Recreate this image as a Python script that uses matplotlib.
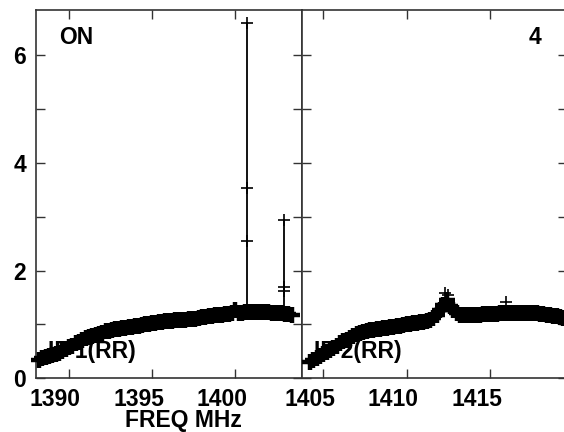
import numpy as np
import matplotlib
matplotlib.use('Agg')
import matplotlib.pyplot as plt
import matplotlib.transforms as mtransforms

plt.rcParams['font.family'] = ['Liberation Sans', 'DejaVu Sans']
plt.rcParams['font.weight'] = 'bold'

# IF 1 (RR) spectrum, 0.2 MHz sampling
if1_freq = np.round(np.arange(1388.2, 1403.41, 0.2), 2)
if1_amp = [0.35, 0.38, 0.40, 0.42, 0.44, 0.46, 0.48, 0.51, 0.54, 0.58,
           0.61, 0.65, 0.68, 0.71, 0.74, 0.77, 0.79, 0.81, 0.83, 0.85,
           0.87, 0.88, 0.90, 0.91, 0.92, 0.93, 0.94, 0.95, 0.96, 0.97,
           0.98, 0.99, 1.00, 1.01, 1.02, 1.03, 1.04, 1.05, 1.06, 1.07,
           1.07, 1.08, 1.08, 1.09, 1.09, 1.10, 1.10, 1.11, 1.12, 1.13,
           1.14, 1.15, 1.16, 1.17, 1.18, 1.18, 1.19, 1.20, 1.21, 1.27,
           1.21, 1.22, 1.23, 1.23, 1.23, 1.24, 1.24, 1.23, 1.23, 1.23,
           1.22, 1.22, 1.21, 1.21, 1.20, 1.19, 1.18]

# IF 2 (RR) spectrum
if2_freq = np.round(np.arange(1404.2, 1419.61, 0.2), 2)
if2_amp = [0.31, 0.34, 0.37, 0.41, 0.45, 0.49, 0.53, 0.57, 0.61, 0.65,
           0.69, 0.72, 0.75, 0.78, 0.82, 0.85, 0.86, 0.87, 0.89, 0.90,
           0.91, 0.92, 0.93, 0.94, 0.95, 0.96, 0.97, 0.98, 0.99, 1.00,
           1.01, 1.02, 1.03, 1.04, 1.05, 1.06, 1.08, 1.12, 1.18, 1.26,
           1.36, 1.45, 1.35, 1.26, 1.21, 1.18, 1.17, 1.17, 1.17, 1.18,
           1.18, 1.18, 1.19, 1.19, 1.19, 1.20, 1.20, 1.21, 1.21, 1.21,
           1.22, 1.22, 1.22, 1.22, 1.22, 1.22, 1.22, 1.21, 1.21, 1.20,
           1.19, 1.18, 1.17, 1.16, 1.15, 1.13, 1.12, 1.10]

# RFI spikes in IF 1
spike_freq = [1400.72, 1402.96]
spike_base = [1.23, 1.20]
spike_top = [6.59, 2.94]
spike_pts_freq = [1400.72, 1400.72, 1400.72, 1402.96, 1402.96, 1402.96]
spike_pts_amp = [6.59, 3.53, 2.55, 2.94, 1.70, 1.63]

# odd channels in IF 2
odd_freq = [1412.3, 1412.5, 1415.96]
odd_amp = [1.58, 1.55, 1.42]

fig = plt.figure(figsize=(5.64, 4.32), dpi=100)
ax1 = fig.add_axes([0.0633, 0.1241, 0.4716, 0.8535])
ax2 = fig.add_axes([0.5349, 0.1241, 0.4704, 0.8535])

shift = mtransforms.ScaledTranslation(-13.5 / 100, 0, fig.dpi_scale_trans)

for ax, xlim, xt in [(ax1, (1388.0, 1404.0), [1390, 1395, 1400]),
                     (ax2, (1403.7, 1419.62), [1405, 1410, 1415])]:
    ax.set_xlim(*xlim)
    ax.set_ylim(0, 6.84)
    ax.set_xticks(xt)
    ax.set_yticks(range(0, 7))
    ax.tick_params(direction='in', length=6.5, width=1.0, top=True, right=True,
                   labelsize=16.5, pad=7, color='#333333')
    for sp in ax.spines.values():
        sp.set_color('#333333')
        sp.set_linewidth(1.2)
    for lab in ax.get_xticklabels():
        lab.set_transform(lab.get_transform() + shift)

ax1.set_yticklabels(['0', '', '2', '', '4', '', '6'])
ax2.set_yticklabels([])

ax1.plot(if1_freq, if1_amp, color='black', lw=3, marker='+', ms=11, mew=3.2,
         clip_on=False, zorder=3)
ax2.plot(if2_freq, if2_amp, color='black', lw=3, marker='+', ms=11, mew=3.2,
         clip_on=False, zorder=3)
ax1.vlines(spike_freq, spike_base, spike_top, color='black', lw=1.3, zorder=3)
ax1.plot(spike_pts_freq, spike_pts_amp, ls='none', marker='+', ms=8.5, mew=1.2,
         color='black', zorder=3)
ax2.plot(odd_freq, odd_amp, ls='none', marker='+', ms=8.5, mew=1.2,
         color='black', zorder=3)

ax1.text(0.088, 0.955, 'ON', transform=ax1.transAxes, fontsize=16.5,
         fontweight='bold', ha='left', va='top', zorder=1)
ax2.text(0.902, 0.955, '4', transform=ax2.transAxes, fontsize=16.5,
         fontweight='bold', ha='right', va='top', zorder=1)
ax1.text(0.045, 0.054, 'IF 1(RR)', transform=ax1.transAxes, fontsize=16.5,
         fontweight='bold', ha='left', va='baseline', zorder=1)
ax2.text(0.045, 0.054, 'IF 2(RR)', transform=ax2.transAxes, fontsize=16.5,
         fontweight='bold', ha='left', va='baseline', zorder=1)

fig.text(183 / 564, 1 - 427 / 432, 'FREQ MHz', fontsize=16.5, fontweight='bold',
         ha='center', va='baseline')

fig.savefig('out.png', dpi=100)
